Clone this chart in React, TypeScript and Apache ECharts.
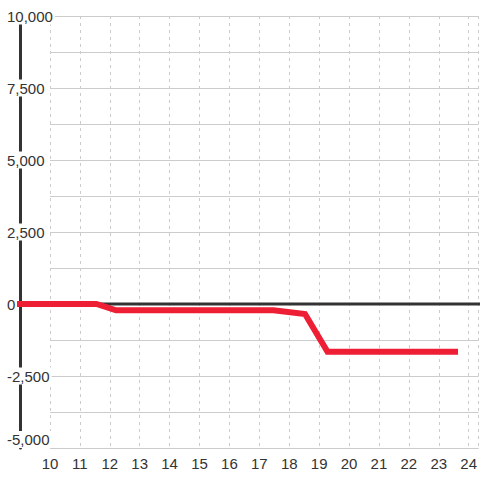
import React, { useEffect, useRef } from "react";
import * as echarts from "echarts";

const xValues = [8.9, 11.55, 12.2, 17.45, 18.5, 19.25, 23.6];
const yValues = [0, 0, -220, -220, -350, -1660, -1660];
const baselineX = [8.9, 24.4];
const baselineY = [0, 0];
const yTicks = [-5000, -2500, 0, 2500, 5000, 7500, 10000];

export default function App() {
  const ref = useRef<HTMLDivElement>(null);
  useEffect(() => {
    if (!ref.current) return;
    const chart = echarts.init(ref.current, null, { renderer: "svg" });
    const fmt = (v: number) =>
      yTicks.includes(v) ? (v < 0 ? "-" : "") + Math.abs(v).toLocaleString("en-US") : "";
    chart.setOption({
      animation: false,
      backgroundColor: "#ffffff",
      grid: [
        { left: 20, right: 0, top: 16, bottom: 32, containLabel: false },
        { left: 50, right: 0, top: 16, bottom: 32, containLabel: false },
      ],
      xAxis: [
        {
          gridIndex: 0,
          type: "value",
          min: 9,
          max: 24.333,
          show: false,
        },
        {
          gridIndex: 1,
          type: "value",
          min: 10,
          max: 24.333,
          interval: 1,
          axisLine: { show: false },
          axisTick: { show: false },
          axisLabel: {
            showMaxLabel: false,
            color: "#333",
            fontSize: 15,
            fontFamily: "Liberation Sans",
            margin: 8,
          },
          splitLine: { show: true, lineStyle: { color: "#cccccc", type: [3, 4], width: 1 } },
        },
      ],
      yAxis: [
        {
          gridIndex: 0,
          type: "value",
          min: -5000,
          max: 10000,
          interval: 1250,
          z: 3,
          axisLine: { show: true, lineStyle: { color: "#333", width: 3 } },
          axisTick: { show: false },
          splitLine: { show: false },
          axisLabel: {
            formatter: fmt,
            align: "left",
            margin: 13,
            color: "#333",
            fontSize: 15,
            fontFamily: "Liberation Sans",
            backgroundColor: "#ffffff",
            padding: [1, 2, 1, 0],
            verticalAlignMinLabel: "bottom",
          },
        },
        {
          gridIndex: 1,
          type: "value",
          min: -5000,
          max: 10000,
          interval: 1250,
          axisLine: { show: false },
          axisTick: { show: false },
          axisLabel: { show: false },
          splitLine: { show: true, lineStyle: { color: "#cccccc", width: 1 } },
        },
      ],
      series: [
        {
          type: "line",
          xAxisIndex: 0,
          yAxisIndex: 0,
          data: baselineX.map((x, i) => [x, baselineY[i]]),
          symbol: "none",
          lineStyle: { color: "#333", width: 3 },
          z: 2,
          silent: true,
        },
        {
          type: "line",
          xAxisIndex: 0,
          yAxisIndex: 0,
          data: xValues.map((x, i) => [x, yValues[i]]),
          symbol: "none",
          clip: false,
          lineStyle: { color: "#ee1f35", width: 6, cap: "butt", join: "miter" },
          z: 4,
        },
      ],
    });
    return () => chart.dispose();
  }, []);
  return <div ref={ref} style={{ width: 480, height: 480, position: "absolute", left: 0, top: 0 }} />;
}
